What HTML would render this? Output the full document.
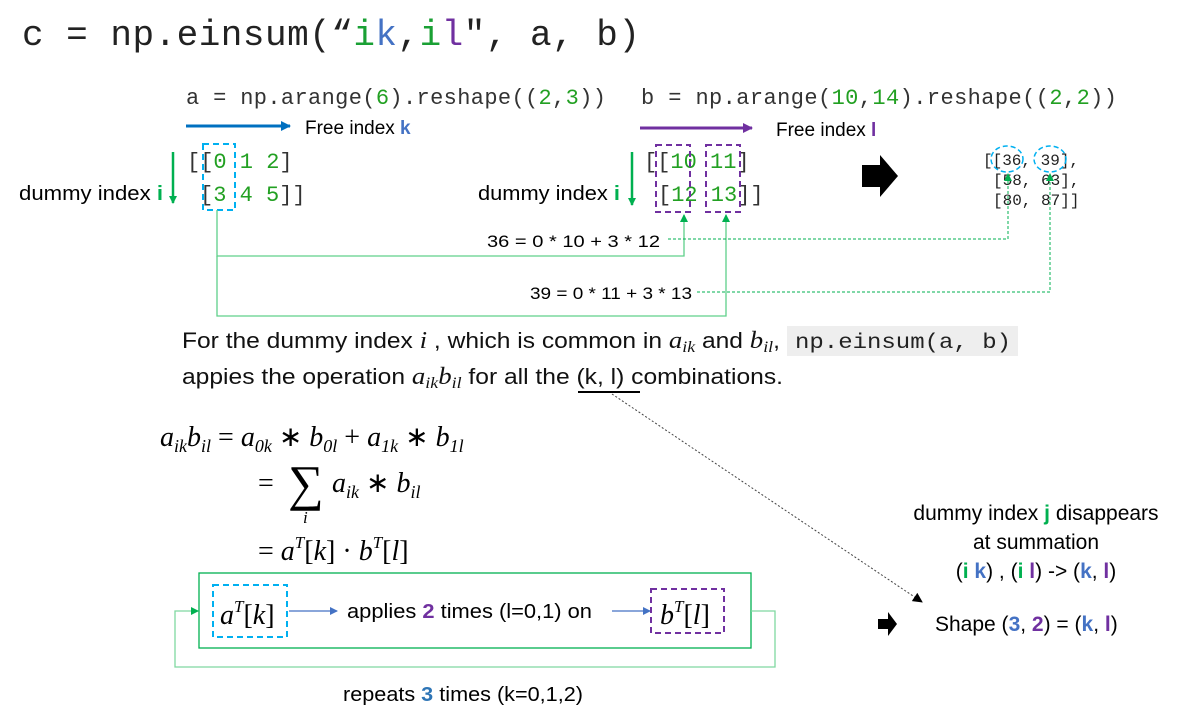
<!DOCTYPE html>
<html><head><meta charset="utf-8"><style>
body{margin:0;background:#fff;width:1179px;height:723px;overflow:hidden}
svg{display:block}
.mono{font-family:"Liberation Mono","DejaVu Sans Mono",monospace}
.sans{font-family:"Liberation Sans",sans-serif}
.serif{font-family:"Liberation Serif",serif;font-style:italic}
</style></head><body>
<svg width="1179" height="723" viewBox="0 0 1179 723" xmlns="http://www.w3.org/2000/svg">
<defs>
<marker id="ag" markerWidth="8" markerHeight="8" refX="7" refY="4" orient="auto" markerUnits="userSpaceOnUse"><path d="M0,0L8,4L0,8z" fill="#00b050"/></marker>
<marker id="ab" markerWidth="10" markerHeight="10" refX="9" refY="5" orient="auto" markerUnits="userSpaceOnUse"><path d="M0,0L10,5L0,10z" fill="#0070c0"/></marker>
<marker id="ap" markerWidth="10" markerHeight="10" refX="9" refY="5" orient="auto" markerUnits="userSpaceOnUse"><path d="M0,0L10,5L0,10z" fill="#7030a0"/></marker>
<marker id="al" markerWidth="8" markerHeight="8" refX="7" refY="4" orient="auto" markerUnits="userSpaceOnUse"><path d="M0,0L8,4L0,8z" fill="#4472c4"/></marker>
<marker id="ak" markerWidth="10" markerHeight="10" refX="9" refY="5" orient="auto" markerUnits="userSpaceOnUse"><path d="M0,0L10,5L0,10z" fill="#000"/></marker>
</defs>

<text x="22" y="45" class="mono" font-size="36" fill="#222" textLength="618">c = np.einsum(“<tspan fill="#1aa034">i</tspan><tspan fill="#4472c4">k</tspan>,<tspan fill="#1aa034">i</tspan><tspan fill="#7030a0">l</tspan>", a, b)</text>

<text x="186" y="104" class="mono" font-size="22" fill="#333" textLength="420">a = np.arange(<tspan fill="#22a022">6</tspan>).reshape((<tspan fill="#22a022">2</tspan>,<tspan fill="#22a022">3</tspan>))</text>
<text x="641" y="104" class="mono" font-size="22" fill="#333" textLength="476">b = np.arange(<tspan fill="#22a022">10</tspan>,<tspan fill="#22a022">14</tspan>).reshape((<tspan fill="#22a022">2</tspan>,<tspan fill="#22a022">2</tspan>))</text>

<line x1="186" y1="126" x2="290" y2="126" stroke="#0070c0" stroke-width="3" marker-end="url(#ab)"/>
<text x="305" y="134" class="sans" font-size="19" fill="#000">Free index <tspan fill="#4472c4" font-weight="bold">k</tspan></text>
<line x1="640" y1="128" x2="752" y2="128" stroke="#7030a0" stroke-width="3" marker-end="url(#ap)"/>
<text x="776" y="136" class="sans" font-size="19" fill="#000">Free index <tspan fill="#7030a0" font-weight="bold">l</tspan></text>

<!-- matrix a -->
<text x="187" y="168" class="mono" font-size="22" fill="#333">[[<tspan fill="#22a022">0 1 2</tspan>]</text>
<text x="200" y="201" class="mono" font-size="22" fill="#333">[<tspan fill="#22a022">3 4 5</tspan>]]</text>
<rect x="203" y="144" width="32" height="66" fill="none" stroke="#00b0f0" stroke-width="2" stroke-dasharray="6,4"/>
<line x1="173" y1="152" x2="173" y2="203" stroke="#00b050" stroke-width="2.5" marker-end="url(#ag)"/>
<text x="19" y="200" class="sans" font-size="20" fill="#000" textLength="144" lengthAdjust="spacingAndGlyphs">dummy index <tspan fill="#00b050" font-weight="bold">i</tspan></text>

<!-- matrix b -->
<text x="644" y="168" class="mono" font-size="22" fill="#333">[[<tspan fill="#22a022">10 11</tspan>]</text>
<text x="658" y="201" class="mono" font-size="22" fill="#333">[<tspan fill="#22a022">12 13</tspan>]]</text>
<rect x="656" y="145" width="34" height="67" fill="none" stroke="#7030a0" stroke-width="2" stroke-dasharray="6,4"/>
<rect x="706" y="145" width="34" height="67" fill="none" stroke="#7030a0" stroke-width="2" stroke-dasharray="6,4"/>
<line x1="632" y1="152" x2="632" y2="205" stroke="#00b050" stroke-width="2.5" marker-end="url(#ag)"/>
<text x="478" y="200" class="sans" font-size="20" fill="#000" textLength="142" lengthAdjust="spacingAndGlyphs">dummy index <tspan fill="#00b050" font-weight="bold">i</tspan></text>

<!-- block arrow -->
<path d="M862,165 L880,165 L880,155 L898,176 L880,197 L880,187 L862,187 Z" fill="#000"/>

<!-- result -->
<text x="983" y="165" class="mono" font-size="16" fill="#222">[[36, 39],</text>
<text x="993" y="185" class="mono" font-size="16" fill="#222">[58, 63],</text>
<text x="993" y="205" class="mono" font-size="16" fill="#222">[80, 87]]</text>
<ellipse cx="1007" cy="159" rx="16" ry="13" fill="none" stroke="#00b0f0" stroke-width="1.5" stroke-dasharray="5,3"/>
<ellipse cx="1050" cy="159" rx="16" ry="13" fill="none" stroke="#00b0f0" stroke-width="1.5" stroke-dasharray="5,3"/>

<!-- connectors -->
<polyline points="217,210 217,256 684,256 684,215" fill="none" stroke="#5fd08a" stroke-width="1.3" marker-end="url(#ag)"/>
<polyline points="217,256 217,316 726,316 726,215" fill="none" stroke="#5fd08a" stroke-width="1.3" marker-end="url(#ag)"/>
<text x="487" y="247" class="sans" font-size="17" fill="#000" textLength="173" lengthAdjust="spacingAndGlyphs">36 = 0 * 10 + 3 * 12</text>
<text x="530" y="299" class="sans" font-size="17" fill="#000" textLength="162" lengthAdjust="spacingAndGlyphs">39 = 0 * 11 + 3 * 13</text>
<polyline points="668,239 1008,239 1008,174" fill="none" stroke="#00b050" stroke-width="1" stroke-dasharray="3,2" marker-end="url(#ag)"/>
<polyline points="697,292 1050,292 1050,174" fill="none" stroke="#00b050" stroke-width="1" stroke-dasharray="3,2" marker-end="url(#ag)"/>

<!-- paragraph -->
<rect x="787" y="326" width="231" height="30" fill="#eee"/>
<text x="182" y="348" class="sans" font-size="22" fill="#111" textLength="598" lengthAdjust="spacingAndGlyphs">For the dummy index <tspan class="serif" font-size="24">i</tspan> , which is common in <tspan class="serif" font-size="24">a</tspan><tspan class="serif" font-size="16" dy="4">ik</tspan><tspan dy="-4"> and </tspan><tspan class="serif" font-size="24">b</tspan><tspan class="serif" font-size="16" dy="4">il</tspan><tspan dy="-4">,</tspan></text>
<text x="795" y="348" class="mono" font-size="21" fill="#222" textLength="216" lengthAdjust="spacingAndGlyphs">np.einsum(a, b)</text>
<text x="182" y="384" class="sans" font-size="22" fill="#111" textLength="601" lengthAdjust="spacingAndGlyphs">appies the operation <tspan class="serif" font-size="24">a</tspan><tspan class="serif" font-size="16" dy="4">ik</tspan><tspan class="serif" font-size="24" dy="-4">b</tspan><tspan class="serif" font-size="16" dy="4">il</tspan><tspan dy="-4"> for all the (k, l) combinations.</tspan></text>
<line x1="578" y1="392" x2="640" y2="392" stroke="#000" stroke-width="2"/>
<line x1="612" y1="394" x2="922" y2="602" stroke="#444" stroke-width="1" stroke-dasharray="2,2" marker-end="url(#ak)"/>

<!-- math -->
<g class="serif" font-size="28" fill="#000">
<text x="160" y="446">a<tspan font-size="18" dy="6">ik</tspan><tspan dy="-6">b</tspan><tspan font-size="18" dy="6">il</tspan><tspan dy="-6" font-style="normal"> = </tspan>a<tspan font-size="18" dy="6">0k</tspan><tspan dy="-6" font-style="normal"> ∗ </tspan>b<tspan font-size="18" dy="6">0l</tspan><tspan dy="-6" font-style="normal"> + </tspan>a<tspan font-size="18" dy="6">1k</tspan><tspan dy="-6" font-style="normal"> ∗ </tspan>b<tspan font-size="18" dy="6">1l</tspan></text>
<text x="258" y="492" font-style="normal">=</text>
<text x="288" y="500" font-style="normal" font-size="50">∑</text>
<text x="303" y="523" font-size="17">i</text>
<text x="332" y="492">a<tspan font-size="18" dy="6">ik</tspan><tspan dy="-6" font-style="normal"> ∗ </tspan>b<tspan font-size="18" dy="6">il</tspan></text>
<text x="258" y="560"><tspan font-style="normal">= </tspan>a<tspan font-size="17" dy="-12">T</tspan><tspan dy="12" font-style="normal">[</tspan>k<tspan font-style="normal">] · </tspan>b<tspan font-size="17" dy="-12">T</tspan><tspan dy="12" font-style="normal">[</tspan>l<tspan font-style="normal">]</tspan></text>
</g>

<!-- loop box -->
<rect x="199" y="573" width="552" height="75" fill="none" stroke="#00b050" stroke-width="1.3"/>
<rect x="213" y="585" width="74" height="52" fill="none" stroke="#00b0f0" stroke-width="2" stroke-dasharray="6,4"/>
<text x="220" y="624" class="serif" font-size="28">a<tspan font-size="17" dy="-12">T</tspan><tspan dy="12" font-style="normal">[</tspan>k<tspan font-style="normal">]</tspan></text>
<line x1="289" y1="611" x2="337" y2="611" stroke="#4472c4" stroke-width="1.2" marker-end="url(#al)"/>
<text x="347" y="618" class="sans" font-size="20" fill="#000" textLength="245" lengthAdjust="spacingAndGlyphs">applies <tspan fill="#7030a0" font-weight="bold">2</tspan> times (l=0,1) on</text>
<line x1="612" y1="611" x2="650" y2="611" stroke="#4472c4" stroke-width="1.2" marker-end="url(#al)"/>
<rect x="651" y="589" width="73" height="44" fill="none" stroke="#7030a0" stroke-width="2" stroke-dasharray="6,4"/>
<text x="660" y="624" class="serif" font-size="28">b<tspan font-size="17" dy="-12">T</tspan><tspan dy="12" font-style="normal">[</tspan>l<tspan font-style="normal">]</tspan></text>
<polyline points="751,611 775,611 775,667 175,667 175,611 198,611" fill="none" stroke="#7fd8a0" stroke-width="1.3" marker-end="url(#ag)"/>
<text x="343" y="701" class="sans" font-size="20" fill="#000" textLength="240" lengthAdjust="spacingAndGlyphs">repeats <tspan fill="#2e75b6" font-weight="bold">3</tspan> times (k=0,1,2)</text>

<!-- right notes -->
<g class="sans" font-size="21" fill="#000" text-anchor="middle">
<text x="1036" y="520">dummy index <tspan fill="#00b050" font-weight="bold">j</tspan> disappears</text>
<text x="1036" y="549">at summation</text>
<text x="1036" y="578">(<tspan fill="#00b050" font-weight="bold">i</tspan> <tspan fill="#4472c4" font-weight="bold">k</tspan>) , (<tspan fill="#00b050" font-weight="bold">i</tspan> <tspan fill="#7030a0" font-weight="bold">l</tspan>) -&gt; (<tspan fill="#4472c4" font-weight="bold">k</tspan>, <tspan fill="#7030a0" font-weight="bold">l</tspan>)</text>
</g>
<path d="M878,619 L888,619 L888,612 L897,624 L888,636 L888,629 L878,629 Z" fill="#000"/>
<text x="935" y="631" class="sans" font-size="21" fill="#000">Shape (<tspan fill="#4472c4" font-weight="bold">3</tspan>, <tspan fill="#7030a0" font-weight="bold">2</tspan>) = (<tspan fill="#4472c4" font-weight="bold">k</tspan>, <tspan fill="#7030a0" font-weight="bold">l</tspan>)</text>
</svg>
</body></html>
